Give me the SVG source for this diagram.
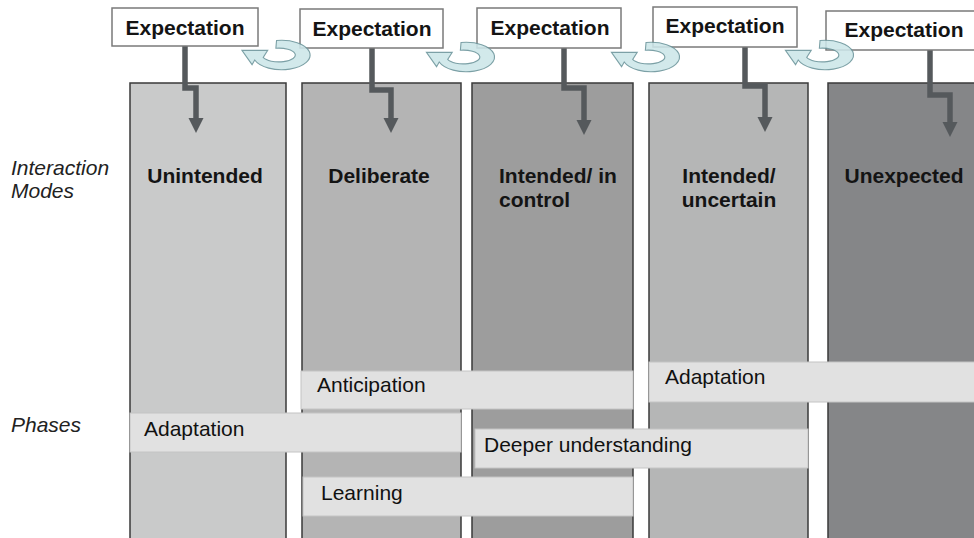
<svg xmlns="http://www.w3.org/2000/svg" width="974" height="538" viewBox="0 0 974 538">
<style>
.col{stroke:#3a3a3a;stroke-width:1.5}
.bar{fill:#e1e1e1;stroke:#c4c4c4;stroke-width:1}
.box{fill:#ffffff;stroke:#7a7a7a;stroke-width:1.5}
.t{font-family:"Liberation Sans",Arial,sans-serif;font-size:21px;fill:#111}
.b{font-weight:bold;fill:#141414}
.i{font-style:italic;fill:#222}
.m{text-anchor:middle}
.arr{fill:none;stroke:#55595c;stroke-width:5.5;stroke-linejoin:miter}
.head{fill:#55595c}
.ring{fill:#cce6e9;stroke:#6a949a;stroke-width:1.2;opacity:0.88}
</style>
<defs>
<path id="cyc" class="ring" d="M -5.4 -15.76 A 31 16 0 1 1 -29.1 5.47 L -32 10.5 L -43 -5 L -15 -5 L -19.9 2.57 A 18 7.5 0 1 0 -6.1 -7.39 Z"/>
</defs>
<rect width="974" height="538" fill="#ffffff"/>

<g id="col-unintended">
<rect class="col" x="130" y="83" width="156" height="462" fill="#c9caca"/>
<text class="t b m" x="205" y="183">Unintended</text>
</g>
<g id="col-deliberate">
<rect class="col" x="302" y="83" width="159" height="462" fill="#b4b4b4"/>
<text class="t b m" x="379" y="183">Deliberate</text>
</g>
<g id="col-intended-control">
<rect class="col" x="472" y="83" width="161" height="462" fill="#9d9d9d"/>
<text class="t b" x="499" y="183">Intended/ in</text>
<text class="t b" x="499" y="207">control</text>
</g>
<g id="col-intended-uncertain">
<rect class="col" x="649" y="83" width="159" height="462" fill="#b5b6b6"/>
<text class="t b m" x="729" y="183">Intended/</text>
<text class="t b m" x="729" y="207">uncertain</text>
</g>
<g id="col-unexpected">
<rect class="col" x="828" y="83" width="160" height="462" fill="#858688"/>
<text class="t b m" x="904" y="183">Unexpected</text>
</g>

<g id="labels">
<text class="t i" x="11" y="175">Interaction</text>
<text class="t i" x="11" y="198">Modes</text>
<text class="t i" x="11" y="432">Phases</text>
</g>

<g id="phase-anticipation">
<rect class="bar" x="301" y="371" width="332" height="38"/>
<text class="t" x="317" y="392">Anticipation</text>
</g>
<g id="phase-adaptation-1">
<rect class="bar" x="130" y="413" width="331" height="39"/>
<text class="t" x="144" y="436">Adaptation</text>
</g>
<g id="phase-deeper">
<rect class="bar" x="475" y="429" width="333" height="39"/>
<text class="t" x="484" y="452">Deeper understanding</text>
</g>
<g id="phase-learning">
<rect class="bar" x="303" y="477" width="330" height="39"/>
<text class="t" x="321" y="500">Learning</text>
</g>
<g id="phase-adaptation-2">
<rect class="bar" x="649" y="362" width="335" height="40"/>
<text class="t" x="665" y="384">Adaptation</text>
</g>

<g id="connectors">
<path class="arr" d="M185 46 V88 H196 V120"/>
<polygon class="head" points="188.5,118 203.5,118 196,133"/>
<path class="arr" d="M372 48 V90 H391 V120"/>
<polygon class="head" points="383.5,118 398.5,118 391,133"/>
<path class="arr" d="M564 48 V88 H584 V122"/>
<polygon class="head" points="576.5,120 591.5,120 584,135"/>
<path class="arr" d="M745 47 V86 H765 V119"/>
<polygon class="head" points="757.5,117 772.5,117 765,132"/>
<path class="arr" d="M930 50 V95 H950 V124"/>
<polygon class="head" points="942.5,122 957.5,122 950,137"/>
</g>

<g id="exp-1">
<rect class="box" x="112" y="8" width="146" height="38"/>
<text class="t b m" x="185" y="35">Expectation</text>
</g>
<g id="exp-2">
<rect class="box" x="300" y="9" width="143" height="39"/>
<text class="t b m" x="372" y="36">Expectation</text>
</g>
<g id="exp-3">
<rect class="box" x="477" y="8" width="144" height="40"/>
<text class="t b m" x="550" y="35">Expectation</text>
</g>
<g id="exp-4">
<rect class="box" x="653" y="7" width="144" height="40"/>
<text class="t b m" x="725" y="33">Expectation</text>
</g>
<g id="exp-5">
<rect class="box" x="826" y="11" width="160" height="39"/>
<text class="t b m" x="904" y="37">Expectation</text>
</g>

<g id="cycles">
<use href="#cyc" transform="translate(281.5 55) scale(0.92)"/>
<use href="#cyc" transform="translate(466 57) scale(0.92)"/>
<use href="#cyc" transform="translate(651 57) scale(0.92)"/>
<use href="#cyc" transform="translate(825 55) scale(0.92)"/>
</g>
</svg>
